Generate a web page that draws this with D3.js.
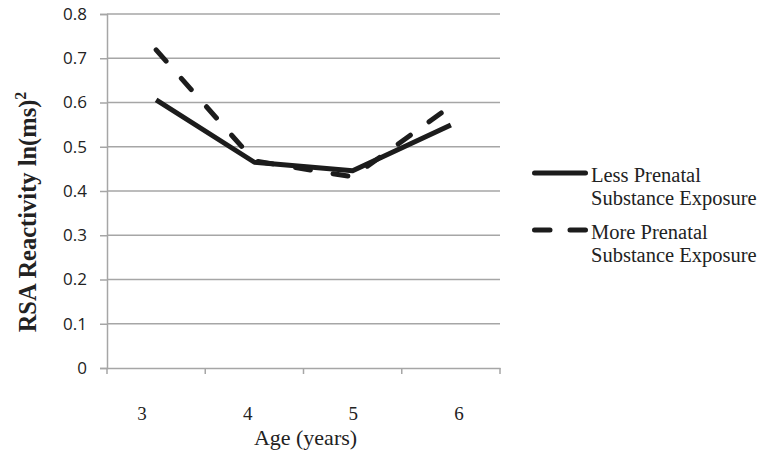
<!DOCTYPE html>
<html><head><meta charset="utf-8">
<script src="https://cdn.jsdelivr.net/npm/d3@7"></script>
<style>body{margin:0;background:#fff}</style>
</head><body>
<svg id="c" width="762" height="458"></svg>
<script>
const ages = ["3", "4", "5", "6"];
const lessExposure = [0.606, 0.465, 0.446, 0.549];
const moreExposure = [0.719, 0.468, 0.432, 0.592];
const yTicks = [0, 0.1, 0.2, 0.3, 0.4, 0.5, 0.6, 0.7, 0.8];
const seriesNames = ["Less Prenatal|Substance Exposure", "More Prenatal|Substance Exposure"];

(function () {
const svg = d3.select("#c");
const pLeft = 107, pRight = 500, pTop = 14, pBottom = 368;
const x = d3.scaleBand().domain(ages).range([pLeft, pRight]);
const xLabel = d3.scalePoint().domain(ages).range([142, 459]);
const y = d3.scaleLinear().domain([0, 0.8]).range([pBottom, pTop]);
const grey = "#a6a6a6", ink = "#1c1c1c";
const serif = "'Liberation Serif', 'Times New Roman', serif";

// gridlines
svg.append("g").selectAll("line").data(yTicks.filter(d => d > 0)).join("line")
  .attr("x1", pLeft).attr("x2", pRight).attr("y1", d => y(d)).attr("y2", d => y(d))
  .attr("stroke", grey).attr("stroke-width", 1.5);

// y axis
const ya = svg.append("g").attr("transform", `translate(${pLeft},0)`)
  .call(d3.axisLeft(y).tickValues(yTicks).tickFormat(d => d === 0 ? "0" : d3.format(".1f")(d)).tickSize(7).tickPadding(13));
ya.select(".domain").attr("stroke", grey).attr("stroke-width", 1.5);
ya.selectAll(".tick line").attr("stroke", grey).attr("stroke-width", 1.5);
ya.selectAll("text").attr("font-family", "'Open Sans', 'Liberation Sans', sans-serif").attr("font-size", 17).attr("fill", "#222");

// x axis (domain line + boundary ticks)
const xa = svg.append("g").attr("transform", `translate(0,${pBottom})`)
  .call(d3.axisBottom(x).tickSize(0).tickFormat(""));
xa.select(".domain").attr("stroke", grey).attr("stroke-width", 1.5);
const bounds = ages.map(a => x(a)).concat([x(ages[ages.length - 1]) + x.bandwidth()]);
svg.append("g").selectAll("line").data(bounds).join("line")
  .attr("x1", d => d).attr("x2", d => d).attr("y1", pBottom).attr("y2", pBottom + 6)
  .attr("stroke", grey).attr("stroke-width", 1.5);
svg.append("g").selectAll("text").data(ages).join("text")
  .attr("x", d => xLabel(d)).attr("y", 420).attr("text-anchor", "middle")
  .attr("font-family", serif).attr("font-size", 19).attr("fill", "#222").text(d => d);

// lines
const line = d3.line().x((d, i) => x(ages[i]) + x.bandwidth() / 2).y(d => y(d));
svg.append("path").datum(lessExposure).attr("d", line).attr("fill", "none")
  .attr("stroke", ink).attr("stroke-width", 5).attr("stroke-linejoin", "round");
svg.append("path").datum(moreExposure).attr("d", line).attr("fill", "none")
  .attr("stroke", ink).attr("stroke-width", 5).attr("stroke-linecap", "round")
  .attr("stroke-dasharray", "15,23");

// axis titles
svg.append("text").attr("x", 305.5).attr("y", 445).attr("text-anchor", "middle")
  .attr("font-family", serif).attr("font-size", 22).attr("fill", "#222")
  .text("Age (years)");
const yt = svg.append("text").attr("transform", "translate(36,212) rotate(-90)").attr("text-anchor", "middle")
  .attr("font-family", serif).attr("font-size", 24.5).attr("font-weight", "bold").attr("fill", "#222");
yt.append("tspan").text("RSA Reactivity ln(ms)");
yt.append("tspan").attr("font-size", 16).attr("dy", -10).text("2");

// legend
const lys = [173, 230];
seriesNames.forEach((n, i) => {
  const g = svg.append("g");
  g.append("line").attr("x1", 534.5).attr("x2", 585.5).attr("y1", lys[i]).attr("y2", lys[i])
    .attr("stroke", ink).attr("stroke-width", 5).attr("stroke-linecap", "round")
    .attr("stroke-dasharray", i === 1 ? "15.5,20" : null);
  n.split("|").forEach((t, j) => {
    g.append("text").attr("x", 591).attr("y", lys[i] + 8.5 + j * 23.3)
      .attr("font-family", serif).attr("font-size", 20.5).attr("fill", "#222")
      .text(t);
  });
});
})();
</script>
</body></html>
